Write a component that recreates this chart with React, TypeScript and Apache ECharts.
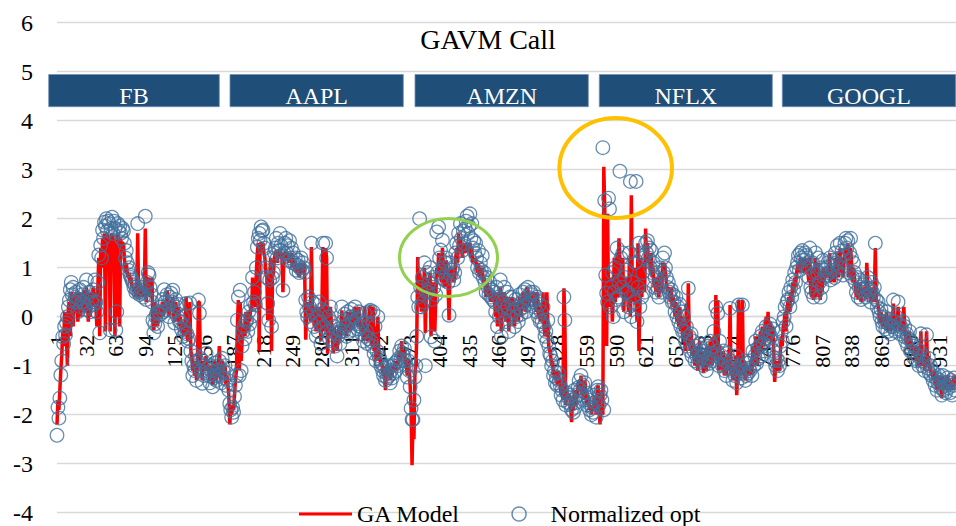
import React, { useEffect, useRef } from "react";
import * as echarts from "echarts";

// ---- Data ----
const TOTAL_POINTS = 948;
const categories: string[] = Array.from({ length: TOTAL_POINTS }, (_, i) => String(i + 1));

const stockLabels = ["FB", "AAPL", "AMZN", "NFLX", "GOOGL"];
const yTicks = [-4, -3, -2, -1, 0, 1, 2, 3, 4, 5, 6];

// Normalized opt (blue circles), five parts of ~190 points
const optPart1 = [
  -2.42, -1.85, -2.07, -1.66, -1.19, -0.9, -0.41, -0.55, -0.2, -0.37,
  -0.13, 0.0, 0.2, 0.34, 0.55, 0.7, 0.45, 0.6, 0.3, 0.4,
  0.5, 0.3, 0.1, 0.35, 0.55, 0.2, 0.45, 0.3, 0.6, 0.25,
  0.15, 0.75, 0.4, 0.2, 0.5, 0.1, 0.35, 0.3, 0.55, 0.25,
  0.75, 0.3, 0.1, 0.7, 1.26, -0.33, 1.46, 1.2, 1.77, 1.6,
  1.93, 1.85, 2.0, 1.75, 1.95, 1.9, -0.27, 1.8, 2.03, 1.7,
  1.95, 1.8, -0.27, 0.1, 1.9, 1.75, 1.85, 1.7, 1.6, 1.8,
  1.75, 1.5, 1.2, 1.35, 1.1, 0.95, 1.0, 0.85, 0.8, 0.75,
  0.7, 0.6, 0.65, 0.5, 0.55, 1.9, 0.5, 0.45, 0.6, 0.48,
  0.5, 0.4, 0.55, 2.05, 0.35, 0.7, 0.9, 0.85, 0.6, 0.45,
  0.3, -0.07, -0.33, -0.15, 0.0, 0.07, -0.2, 0.1, 0.2, 0.05,
  0.2, 0.35, 0.1, 0.55, 0.3, 0.13, 0.45, 0.25, 0.0, 0.4,
  0.48, 0.3, 0.54, 0.1, -0.13, 0.35, 0.2, 0.0, 0.25, -0.1,
  -0.1, -0.25, 0.0, -0.4, -0.2, -0.3, 0.27, -0.35, -0.5, -0.45,
  0.28, -0.7, -0.9, -1.2, -1.0, -1.1, -0.8, -1.3, -0.9, 0.34,
  0.07, -0.85, -1.1, -1.36, -0.9, -1.2, -1.0, -0.75, -1.15, -1.05,
  -1.2, -1.35, -1.0, -1.1, -1.43, -1.25, -0.95, -1.2, -1.3, -1.1,
  -1.0, -0.9, -1.2, -1.35, -0.85, -1.1, -1.25, -1.0, -1.4, -1.15,
  -1.3, -1.5, -1.77, -1.9, -2.05, -1.85, -1.95, -1.63, -1.4, -1.2,
];
const optPart2 = [
  -0.07, 0.4, -1.2, 0.54, -1.1, -0.6, -0.3, -0.2, -0.45, -0.1,
  -0.07, -0.3, 0.1, -0.15, 0.24, 0.0, 0.8, 0.3, 0.5, 0.25,
  1.0, 1.42, 1.6, 1.7, 1.55, 1.83, 1.75, 1.77, 1.5, 1.4,
  1.0, 0.8, 0.27, -0.07, 0.75, 1.2, -0.2, 0.8, 0.9, 1.3,
  1.4, 1.6, 1.2, 1.5, 1.35, 1.7, 1.45, 1.25, 0.54, 1.3,
  1.5, 1.6, 1.3, 1.45, 1.15, 1.55, 1.2, 1.4, 1.1, 1.3,
  1.1, 1.2, 0.95, 1.05, 1.15, 0.9, 1.0, 1.2, 0.95, 1.1,
  1.0, 0.9, 0.34, 0.1, 0.0, 0.4, 0.2, -0.1, 1.5, 0.3,
  0.1, -0.2, 0.25, -0.4, 0.0, -0.3, 0.3, -0.1, -0.55, 0.15,
  1.5, -0.2, 0.1, 1.5, 1.2, -0.3, 0.0, -0.45, 0.2, -0.1,
  -0.3, -0.5, -0.2, -0.6, -0.35, -0.8, -0.4, -0.25, -0.55, -0.3,
  0.2, -0.1, -0.3, 0.05, -0.2, -0.4, 0.1, -0.15, -0.3, 0.0,
  0.15, -0.1, -0.27, 0.0, 0.2, -0.15, -0.05, -0.25, 0.1, -0.2,
  -0.2, -0.35, -0.13, -0.5, 0.07, -0.4, -0.3, -0.55, -0.45, 0.1,
  0.13, -0.5, -0.6, 0.1, -0.75, -0.2, -0.9, -0.7, 0.0, -0.8,
  -0.85, -1.0, -0.95, -1.1, -1.2, -1.05, -1.3, -1.15, -1.25, -1.0,
  -1.2, -1.35, -1.1, -1.25, -1.0, -1.15, -0.95, -1.1, -0.9, -1.0,
  -0.85, -0.7, -0.9, -0.6, -0.75, -0.8, -0.65, -0.9, -1.0, -1.23,
  -0.9, -1.1, -1.43, -1.87, -2.1, -2.1, -1.7, -1.23, -1.0, -0.4,
];
const optPart3 = [
  0.4, 0.2, 2.0, 0.6, 0.2, 0.8, 0.3, 1.1, -1.0, 0.5,
  0.9, 0.5, 0.7, 1.0, -0.41, 0.35, 0.8, 0.6, -0.5, 0.45,
  1.73, 0.9, 1.83, 1.2, 1.36, 0.8, 1.56, 1.0, 0.75, 1.1,
  1.2, 0.9, 0.7, 0.03, 1.1, 0.85, 0.95, 1.0, 0.75, 0.9,
  1.3, 1.5, 1.2, 1.7, 1.45, 1.9, 1.6, 1.35, 1.75, 1.5,
  1.8, 1.95, 2.05, 1.7, 1.85, 2.1, 1.6, 1.9, 1.4, 1.55,
  1.3, 1.5, 1.2, 1.0, 1.35, 0.9, 1.1, 0.95, 1.25, 0.8,
  0.9, 0.7, 0.5, 0.8, 0.6, 0.45, 0.7, 0.4, 0.55, 0.35,
  0.5, 0.3, 0.1, 0.6, -0.2, 0.4, 0.0, 0.75, -0.4, 0.2,
  0.3, 0.6, 0.1, -0.1, 0.5, 0.2, -0.3, 0.4, 0.0, 0.25,
  0.4, 0.1, -0.2, 0.35, 0.0, 0.2, -0.1, 0.45, 0.15, 0.05,
  0.3, 0.5, 0.2, 0.55, 0.1, 0.4, 0.6, 0.25, 0.35, 0.5,
  0.45, 0.3, 0.5, 0.2, 0.35, 0.1, 0.4, 0.0, 0.25, -0.1,
  0.1, -0.1, 0.2, -0.2, -0.4, -0.3, -0.5, -0.07, -0.6, -0.75,
  -0.8, -1.0, -0.9, -1.2, -1.1, -1.35, -1.25, -1.4, -1.15, -1.3,
  -1.4, -1.6, -1.5, -1.7, 0.4, -0.07, -1.8, -1.55, -1.75, -1.65,
  -1.6, -1.8, -1.9, -1.7, -1.95, -1.5, -1.85, -1.75, -1.6, -1.45,
  -1.3, -1.5, -1.2, -1.6, -1.4, -1.7, -1.35, -1.55, -1.8, -1.65,
  -1.7, -1.9, -1.8, -2.0, -1.85, -1.95, -1.6, -1.75, -2.05, -1.5,
];
const optPart4 = [
  -1.43, -1.8, -1.6, -1.5, -1.7, 3.45, -1.9, 2.37, 0.85, 0.48,
  0.3, 2.42, 2.2, 0.2, 0.6, 0.9, 0.0, 0.5, 1.0, 0.35,
  1.4, 0.4, 0.7, 2.97, 1.2, 0.6, 1.3, 0.1, 0.8, 0.5,
  0.95, 0.5, 0.2, 1.3, 2.76, 0.0, 0.7, 0.4, 0.3, 1.1,
  2.76, -0.1, 0.6, 1.5, 0.2, 1.3, 0.4, 0.9, 1.2, 0.5,
  1.5, 1.3, 1.55, 1.2, 1.4, 1.0, 1.35, 0.9, 1.1, 0.6,
  0.8, 0.5, 0.9, 0.6, 0.4, 1.0, 0.7, 0.5, 1.2, 0.9,
  1.3, 1.0, 0.8, 0.6, 0.7, 0.5, 0.4, 0.55, 0.3, 0.45,
  0.3, 0.1, 0.4, 0.0, 0.2, -0.1, 0.25, -0.2, 0.1, -0.3,
  0.0, -0.3, -0.5, -0.2, -0.6, 0.58, -0.4, -0.7, -0.35, -0.8,
  -0.5, -0.7, -0.9, -0.6, -0.8, -0.95, -0.75, -0.55, -0.85, -0.65,
  -0.8, -1.0, -0.7, -0.9, -1.1, -0.6, -0.85, -0.95, -0.5, -0.75,
  -0.9, -0.6, -0.3, -0.8, 0.2, -0.7, 0.07, -1.0, -0.5, -0.85,
  -0.8, -1.0, -0.7, -1.1, -0.9, -1.2, -0.75, -1.05, -0.95, 0.17,
  -0.9, -1.1, -1.3, -1.0, -1.2, -0.8, -1.35, -1.05, 0.24, -1.15,
  -1.0, -1.25, 0.24, -1.1, -0.9, -1.3, -1.2, -0.95, -1.15, -1.05,
  -1.1, -0.9, -1.2, -0.7, -1.0, -0.8, -0.5, -0.95, -0.65, -0.85,
  -0.6, -0.4, -0.8, -0.3, -0.55, -0.7, -0.45, -0.2, -0.6, -0.35,
  -0.3, -0.15, -0.4, -0.5, -0.25, -0.7, -0.9, -1.0, -0.85, -1.1,
];
const optPart5 = [
  -0.9, -1.0, -0.6, -0.3, -0.5, -0.1, 0.0, 0.2, -0.2, 0.3,
  0.35, 0.5, 0.2, 0.6, 0.4, 0.75, 0.55, 0.9, 0.7, 1.0,
  1.1, 1.25, 0.95, 1.3, 1.2, 1.35, 1.15, 1.05, 1.3, 1.25,
  1.2, 1.0, 0.8, 1.4, 0.6, 0.5, 1.1, 0.4, 0.9, 1.3,
  0.5, 0.9, 1.2, 0.7, 0.4, 1.0, 0.6, 1.15, 0.8, 0.95,
  1.0, 0.85, 1.1, 0.9, 1.2, 0.75, 1.05, 0.95, 1.15, 0.8,
  1.3, 1.1, 1.45, 0.9, 1.2, 1.5, 1.0, 1.35, 0.85, 1.25,
  1.5, 1.6, 1.4, 1.55, 0.9, 1.3, 1.6, 1.2, 0.8, 1.1,
  0.9, 0.7, 0.5, 0.8, 0.4, 0.6, 0.75, 0.35, 0.55, 0.65,
  0.5, 0.7, 0.4, 0.6, 0.8, 0.45, 0.55, 0.3, 0.7, 0.5,
  0.4, 0.6, 1.5, 0.35, 0.2, 0.3, 0.1, 0.0, 0.15, -0.1,
  -0.2, 0.0, -0.1, -0.25, 0.1, -0.3, -0.15, -0.05, -0.35, -0.2,
  -0.2, 0.34, -0.1, -0.3, 0.0, -0.25, 0.3, -0.15, -0.35, -0.2,
  -0.3, -0.1, -0.4, -0.2, -0.5, -0.35, -0.6, -0.45, -0.3, -0.7,
  -0.5, -0.7, -0.6, -0.85, -0.75, -0.9, -0.65, -0.8, -1.0, -0.7,
  -0.35, -0.9, -1.0, -0.8, -1.1, -0.95, -0.37, -1.05, -0.85, -1.15,
  -1.0, -1.2, -1.1, -1.3, -1.15, -1.4, -1.25, -1.5, -1.35, -1.2,
  -1.3, -1.45, -1.6, -1.2, -1.5, -1.35, -1.55, -1.4, -1.25, -1.45,
  -1.35, -1.55, -1.3, -1.6, -1.4, -1.25, -1.5, -1.35,
];

// GA Model (red line)
const gaPart1 = [
  -2.2, -1.7, -1.9, -1.5, -1.1, -0.8, -0.3, -0.6, 0.1, -0.2,
  -0.5, -1.0, 0.2, 0.3, -0.4, 0.5, 0.3, -0.2, 0.4, 0.1,
  0.5, 0.2, -0.1, 0.4, 0.5, 0.0, 0.45, 0.2, 0.55, 0.1,
  0.2, 0.6, 0.3, -0.1, 0.5, 0.0, 0.4, 0.2, 0.6, 0.3,
  0.5, 0.2, -0.2, 0.6, 1.2, -0.4, 1.4, 1.0, 1.6, 1.5,
  1.7, -0.3, 1.6, 1.7, 1.5, 1.6, -0.3, 1.6, 1.7, 1.5,
  1.6, -0.4, 1.5, 0.0, 1.7, 1.5, -0.2, 1.6, 1.4, 1.5,
  1.5, 1.2, 0.9, 1.1, 0.9, 0.8, 0.9, 0.7, 0.8, 0.6,
  0.6, 0.5, 0.6, 0.4, 0.5, 1.7, 0.4, 0.5, 0.6, 0.4,
  0.5, 0.4, 0.5, 1.8, 0.3, 0.6, 0.8, 0.7, 0.5, 0.4,
  0.8, -0.1, -0.27, 0.3, 0.0, 0.1, -0.2, 0.2, 0.1, 0.0,
  0.1, 0.3, 0.0, 0.2, 0.3, 0.1, 0.54, 0.2, 0.0, 0.3,
  0.3, 0.2, 0.4, 0.0, -0.1, 0.3, 0.1, -0.1, 0.2, -0.2,
  0.0, -0.3, -0.1, -0.4, -0.2, -0.3, 0.4, -0.4, -0.5, -0.4,
  0.3, -0.7, -0.8, -1.1, -1.0, -1.2, -0.9, -1.3, -0.9, 0.3,
  0.3, -0.9, -1.0, -1.3, -0.9, -1.1, -1.0, -0.8, -1.1, -1.0,
  -1.1, -1.3, -1.0, -1.1, -1.4, -1.2, -0.9, -1.2, -1.3, -1.1,
  -1.0, -0.6, -1.2, -1.3, -0.9, -1.1, -1.2, -1.0, -1.4, -1.2,
  -1.4, -1.6, -2.2, -1.9, -2.0, -1.8, -1.9, -1.6, -1.3, -1.1,
];
const gaPart2 = [
  -0.2, 0.34, -1.1, 0.3, -0.9, -0.5, -0.2, -0.3, -0.4, 0.1,
  -0.1, -0.3, 0.1, -0.1, 0.2, 0.1, 0.8, 0.3, 0.5, 0.2,
  0.9, 1.3, 1.5, -0.7, 1.5, 1.5, 1.4, 1.5, 1.3, 1.2,
  0.9, 0.8, -0.07, 0.2, 0.7, 1.2, -0.7, 0.8, 0.9, 1.2,
  1.3, 1.35, 1.1, 1.3, 1.2, 1.35, 1.3, 1.2, 0.5, 1.2,
  1.3, 1.3, 1.2, 1.3, 1.1, 1.3, 1.1, 1.3, 1.0, 1.2,
  1.0, 1.1, 0.9, 1.0, 1.1, 0.8, 0.9, 1.1, 0.9, 1.0,
  1.1, 0.8, -0.47, 0.1, 0.0, 0.3, 0.2, -0.1, 1.42, 0.2,
  0.1, -0.2, 0.2, -0.3, 0.0, -0.3, 0.2, -0.1, -0.5, 0.1,
  1.42, -0.3, 0.1, 1.4, 1.2, -0.75, 0.0, -0.4, 0.2, -0.1,
  -0.3, -0.75, -0.2, -0.6, -0.3, -0.7, -0.4, -0.2, -0.5, -0.3,
  0.13, -0.1, -0.3, 0.0, -0.2, -0.4, 0.1, -0.1, -0.3, 0.0,
  0.1, -0.1, -0.25, 0.0, 0.2, -0.1, 0.0, -0.2, 0.2, -0.2,
  -0.2, -0.3, -0.1, -0.5, 0.2, -0.4, -0.3, -0.5, -0.4, 0.2,
  0.2, -0.5, -0.6, 0.2, -0.7, -0.2, -0.9, -0.6, 0.0, -0.8,
  -0.8, -1.0, -0.9, -1.1, -1.2, -1.0, -1.5, -1.1, -1.2, -1.0,
  -1.1, -1.3, -1.1, -1.2, -1.0, -1.1, -0.9, -1.1, -0.9, -1.0,
  -0.8, -0.7, -0.9, -0.5, -0.8, -0.8, -0.7, -0.9, -1.0, -1.2,
  -0.9, -1.1, -1.4, -1.9, -3.03, -2.1, -2.5, -1.2, -1.0, -0.4,
];
const gaPart3 = [
  1.22, 0.2, 0.9, 0.6, 0.1, 0.8, 0.3, 1.0, -0.33, 0.5,
  0.8, 0.5, 0.6, 0.9, -0.4, 0.3, 0.7, 0.5, -0.3, 0.4,
  1.0, 0.8, 1.3, 1.1, 1.2, 0.7, 1.4, 0.9, 0.6, 1.0,
  1.15, 0.8, 0.6, -0.07, 1.0, 0.8, 0.9, 1.0, 0.7, 0.8,
  1.2, 1.4, 1.1, 1.7, 1.3, 1.6, 1.4, 1.2, 1.5, 1.3,
  1.5, 1.4, 1.5, 1.3, 1.4, 1.5, 1.2, 1.4, 1.1, 1.2,
  1.1, 1.2, 1.0, 0.9, 1.1, 0.8, 0.95, 0.8, 1.0, 0.7,
  0.8, 0.6, 0.4, 0.7, 0.5, 0.4, 0.6, 0.3, 0.5, 0.3,
  0.5, 0.3, 0.0, 0.5, -0.2, 0.4, 0.0, 0.6, -0.3, 0.2,
  0.3, 0.5, 0.1, -0.1, 0.4, 0.2, -0.3, 0.4, 0.0, 0.2,
  0.4, 0.1, -0.2, 0.3, 0.0, 0.2, -0.1, 0.4, 0.1, 0.0,
  0.3, 0.5, 0.2, 0.5, 0.1, 0.6, 0.5, 0.2, 0.3, 0.4,
  0.4, 0.3, 0.5, 0.2, 0.3, 0.1, 0.5, 0.0, 0.2, -0.1,
  0.1, -0.1, 0.5, -0.2, -0.4, -0.3, 0.5, -0.1, -0.6, -0.7,
  -0.8, -1.0, -0.9, -1.2, -1.1, -1.3, -1.2, -1.4, -1.1, -1.3,
  -1.4, -1.6, -1.5, -1.7, 0.58, -0.1, -1.8, -1.5, -1.7, -1.6,
  -1.6, -1.8, -2.15, -1.7, -1.9, -1.5, -1.8, -1.7, -1.6, -1.4,
  -1.3, -1.5, -1.2, -1.6, -1.4, -1.7, -1.3, -1.5, -1.8, -1.6,
  -1.7, -1.9, -1.8, -2.0, -1.8, -1.9, -1.6, -1.7, -2.0, -1.5,
];
const gaPart4 = [
  -1.4, -1.8, -2.2, -1.5, -1.9, -2.0, 3.06, 2.17, 0.8, -0.6,
  2.1, 0.2, 0.5, 0.3, 0.8, -0.1, 0.4, 1.2, 0.3, 0.6,
  1.3, 0.4, 1.6, 1.1, 1.0, 0.5, 1.2, 0.1, 0.7, 0.4,
  0.8, 0.5, 0.1, 1.2, 0.0, 2.48, 0.6, 0.4, 0.3, 1.0,
  0.4, -0.1, 1.5, -0.7, 0.2, 1.2, 0.4, 0.8, 1.1, 0.5,
  1.8, 1.2, 1.5, 1.1, 1.3, 0.9, 1.3, 0.8, 1.0, 0.6,
  0.7, 0.5, 0.8, 0.6, 0.4, 0.9, 0.6, 0.5, 1.1, 0.8,
  1.1, 0.9, 0.7, 0.5, 0.6, 0.5, 0.3, 0.6, 0.2, 0.4,
  0.3, 0.0, 0.3, -0.1, 0.2, -0.2, 0.2, -0.3, 0.0, -0.4,
  -0.1, -0.5, -0.7, 0.27, -0.6, 0.68, -0.4, -0.7, -0.3, -0.8,
  -0.5, -0.8, -1.0, -0.6, -0.9, -1.1, -0.8, -0.5, -1.0, -0.7,
  -0.9, -1.15, -0.7, -1.0, -1.1, -0.6, -0.9, -1.0, -0.5, -0.8,
  -1.0, -0.6, -0.4, -0.8, 0.44, -0.9, 0.34, -1.1, -0.6, -0.9,
  -0.9, -1.1, -0.7, -1.2, -1.0, -1.2, -0.8, -1.1, -1.0, 0.24,
  -1.2, -1.1, -1.3, -1.0, -1.3, -0.8, -1.6, -1.1, 0.34, -1.2,
  -1.1, -1.2, 0.34, -1.2, -0.9, -1.3, -1.2, -1.0, -1.2, -1.0,
  -1.2, -0.9, -1.2, -0.6, -1.0, -0.8, -0.4, -1.0, -0.6, -0.8,
  -0.5, -0.3, -0.7, -0.2, -0.5, -0.6, -0.3, 0.0, -0.5, 0.1,
  -0.3, -0.1, -0.4, -0.5, -0.2, -0.7, -1.33, -1.0, -0.9, -1.1,
];
const gaPart5 = [
  -1.0, -1.1, -0.7, -0.4, -0.6, -0.2, -0.1, 0.1, -0.3, 0.2,
  0.3, 0.4, 0.1, 0.5, 0.3, 0.7, 0.5, 0.8, 0.6, 0.9,
  1.0, 1.1, 0.9, 1.2, 1.1, 1.2, 1.0, 0.9, 1.2, 1.1,
  1.1, 0.9, 0.7, 1.2, 0.5, 0.4, 1.0, 0.34, 0.8, 1.2,
  0.4, 0.8, 1.1, 0.6, 0.34, 0.9, 0.5, 1.0, 0.7, 0.9,
  0.9, 0.8, 1.0, 0.8, 1.3, 0.7, 1.0, 0.9, 1.0, 0.7,
  1.2, 1.0, 1.3, 0.8, 1.1, 1.4, 0.9, 1.2, 0.8, 1.1,
  1.3, 1.4, 1.2, 1.5, 0.8, 1.2, 1.4, 1.1, 0.7, 1.0,
  0.8, 0.6, 0.4, 0.7, 0.35, 0.5, 0.7, 0.3, 0.5, 0.6,
  0.4, 0.6, 0.35, 1.1, 0.7, 0.4, 0.5, 0.3, 0.6, 0.4,
  0.3, 0.5, 1.4, 0.3, 0.34, 0.2, 0.1, -0.13, 0.1, -0.1,
  -0.2, 0.0, -0.1, -0.25, 0.1, -0.3, -0.1, 0.0, -0.3, -0.2,
  -0.2, 0.27, -0.1, -0.3, 0.0, -0.2, 0.2, -0.1, -0.3, -0.2,
  -0.3, -0.1, 0.2, -0.2, -0.5, -0.3, -0.6, -0.4, -0.3, -0.7,
  -0.5, -0.7, -0.6, -0.8, -0.7, -0.9, -0.6, -0.8, -1.0, -0.7,
  -0.3, -0.9, -1.0, -0.8, -1.1, -0.9, -0.3, -1.0, -0.8, -1.1,
  -1.0, -1.2, -1.1, -1.3, -1.1, -1.4, -1.2, -1.5, -1.3, -1.2,
  -1.3, -1.4, -1.66, -1.2, -1.5, -1.3, -1.5, -1.4, -1.2, -1.4,
  -1.3, -1.5, -1.3, -1.5, -1.4, -1.2, -1.4, -1.3,
];

const normalizedOpt = [...optPart1, ...optPart2, ...optPart3, ...optPart4, ...optPart5];
const gaModel = [...gaPart1, ...gaPart2, ...gaPart3, ...gaPart4, ...gaPart5];

const SERIF = "Liberation Serif, serif";

export default function App() {
  const ref = useRef<HTMLDivElement>(null);

  useEffect(() => {
    if (!ref.current) return;
    const chart = echarts.init(ref.current, undefined, { renderer: "svg" });

    const gridTop = 22.7;
    const gridBottom = 13.3;
    const plotHeight = 526 - gridTop - gridBottom;
    const yMin = yTicks[0];
    const yMax = yTicks[yTicks.length - 1];
    // distance from the bottom of the plot (yMin) up to the value 0
    const zeroOffset = (plotHeight * (0 - yMin)) / (yMax - yMin);

    const boxX = [48.7, 230, 415, 599.3, 782.3];
    const boxW = [170.6, 173.3, 173.3, 173, 173.4];
    const boxes: any[] = [];
    stockLabels.forEach((name, i) => {
      boxes.push({
        type: "rect",
        z: 100,
        shape: { x: boxX[i], y: 74.5, width: boxW[i], height: 32.2 },
        style: { fill: "#1F4E79", stroke: "#6F8FB5", lineWidth: 0.8 },
      });
      boxes.push({
        type: "text",
        z: 101,
        x: boxX[i] + boxW[i] / 2,
        y: 96,
        style: {
          text: name,
          fill: "#ffffff",
          fontSize: 24,
          fontFamily: SERIF,
          align: "center",
          verticalAlign: "middle",
          textAlign: "center",
          textVerticalAlign: "middle",
        },
      });
    });

    const option: any = {
      animation: false,
      backgroundColor: "#ffffff",
      textStyle: { fontFamily: SERIF },
      grid: {
        left: 57,
        right: 0,
        top: gridTop,
        bottom: gridBottom,
        containLabel: false,
        outerBoundsMode: "none",
      },
      xAxis: {
        type: "category",
        data: categories,
        boundaryGap: false,
        position: "bottom",
        offset: -zeroOffset,
        axisLine: { onZero: false, lineStyle: { color: "#d9d9d9", width: 1.3 } },
        axisTick: { show: false },
        axisLabel: {
          interval: 30,
          rotate: 90,
          margin: 18,
          fontSize: 22,
          fontFamily: SERIF,
          color: "#000000",
        },
        splitLine: { show: false },
      },
      yAxis: {
        type: "value",
        min: yMin,
        max: yMax,
        interval: 1,
        axisLine: { show: false },
        axisTick: { show: false },
        axisLabel: { fontSize: 24, fontFamily: SERIF, color: "#000000", margin: 24 },
        splitLine: { lineStyle: { color: "#d9d9d9", width: 1.3 } },
      },
      legend: {
        left: 299,
        top: 502,
        padding: 0,
        itemWidth: 53,
        itemHeight: 14,
        itemGap: 51,
        textStyle: { fontSize: 24, fontFamily: SERIF, color: "#000000" },
        data: [
          {
            name: "GA Model",
            icon: "path://M0,0L53,0L53,3L0,3Z",
            itemStyle: { color: "#ff0000", borderWidth: 0 },
          },
          {
            name: "Normalized opt",
            icon: "circle",
            itemStyle: { color: "rgba(0,0,0,0)", borderColor: "#41719C", borderWidth: 1.5 },
          },
        ],
      },
      series: [
        {
          name: "GA Model",
          type: "line",
          data: gaModel,
          showSymbol: false,
          symbol: "none",
          lineStyle: { color: "#ff0000", width: 3.5 },
          itemStyle: { color: "#ff0000" },
          z: 2,
        },
        {
          name: "Normalized opt",
          type: "scatter",
          data: normalizedOpt,
          symbol: "circle",
          symbolSize: 13.5,
          itemStyle: { color: "rgba(0,0,0,0)", borderColor: "#41719C", borderWidth: 1.3 },
          z: 3,
        },
      ],
      graphic: [
        {
          type: "text",
          z: 100,
          x: 488,
          y: 39,
          style: {
            text: "GAVM Call",
            fill: "#000000",
            fontSize: 28,
            fontFamily: SERIF,
            align: "center",
            verticalAlign: "middle",
            textAlign: "center",
            textVerticalAlign: "middle",
          },
        },
        ...boxes,
        {
          type: "ellipse",
          z: 100,
          shape: { cx: 448.5, cy: 257.5, rx: 49, ry: 39 },
          style: { fill: "none", stroke: "#92D050", lineWidth: 3 },
        },
        {
          type: "ellipse",
          z: 100,
          shape: { cx: 615.7, cy: 168, rx: 56.3, ry: 50 },
          style: { fill: "none", stroke: "#FFC000", lineWidth: 4 },
        },
      ],
    };

    chart.setOption(option);
    return () => chart.dispose();
  }, []);

  return (
    <div
      ref={ref}
      style={{ position: "fixed", left: 0, top: 0, width: 956, height: 526, background: "#fff" }}
    />
  );
}
